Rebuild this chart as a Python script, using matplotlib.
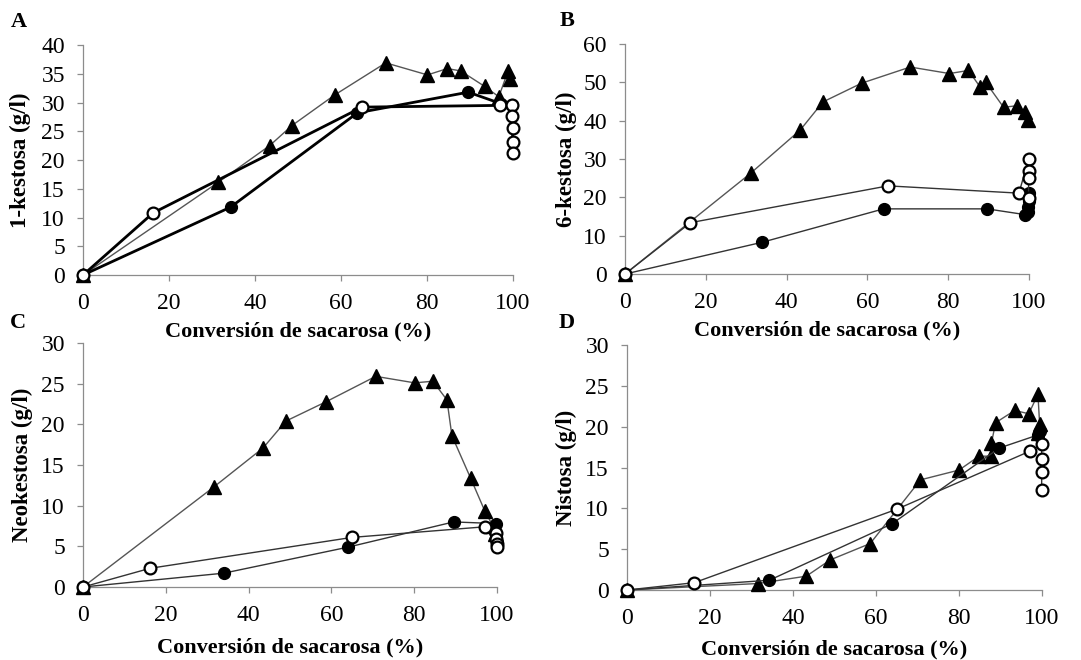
import matplotlib
matplotlib.use('Agg')
import matplotlib.pyplot as plt

plt.rcParams['font.family'] = ['Liberation Serif', 'DejaVu Serif']

# A - 1-kestosa
a_tri_x = [0, 31.4, 43.4, 48.6, 58.5, 70.4, 80.1, 84.7, 87.8, 93.4, 96.7, 98.8, 99.4]
a_tri_y = [0, 16.1, 22.5, 26.0, 31.3, 36.9, 34.8, 35.9, 35.5, 32.8, 31.0, 35.4, 34.1]
a_fil_x = [0, 34.3, 63.8, 89.6, 97.2, 99.8]
a_fil_y = [0, 11.8, 28.2, 31.8, 29.8, 29.6]
a_opn_x = [0, 16.3, 64.9, 97.0, 99.8, 99.8, 99.9, 99.9, 99.9]
a_opn_y = [0, 10.8, 29.2, 29.5, 29.6, 27.7, 25.6, 23.2, 21.3]

# B - 6-kestosa
b_tri_x = [0, 31.1, 43.4, 49.0, 58.6, 70.6, 80.3, 85.0, 87.9, 89.3, 93.7, 97.0, 99.1, 99.7]
b_tri_y = [0, 26.3, 37.6, 44.9, 49.8, 54.0, 52.3, 53.1, 48.8, 50.0, 43.5, 43.9, 42.2, 40.1]
b_fil_x = [0, 34.0, 64.0, 89.6, 99.0, 99.8, 99.8, 99.9, 99.9]
b_fil_y = [0, 8.3, 17.0, 17.0, 15.5, 16.2, 17.5, 19.0, 21.2]
b_opn_x = [0, 16.2, 65.1, 97.5, 99.9, 99.9, 99.9, 99.9]
b_opn_y = [0, 13.4, 23.0, 21.1, 29.9, 26.9, 25.1, 19.8]

# C - Neokestosa
c_tri_x = [0, 31.6, 43.5, 49.0, 58.8, 70.7, 80.1, 84.5, 87.9, 89.1, 93.6, 97.0, 99.0, 99.5]
c_tri_y = [0, 12.3, 17.1, 20.4, 22.8, 25.9, 25.1, 25.3, 23.0, 18.6, 13.4, 9.4, 7.5, 6.5]
c_fil_x = [0, 34.0, 64.0, 89.5, 99.8, 99.5, 99.8, 99.9]
c_fil_y = [0, 1.7, 4.9, 8.0, 7.8, 6.8, 6.2, 5.5]
c_opn_x = [0, 16.2, 65.0, 97.0, 99.8, 99.8, 99.9, 99.9]
c_opn_y = [0, 2.3, 6.1, 7.4, 6.6, 5.9, 5.3, 4.9]

# D - Nistosa
d_tri_x = [0, 31.6, 43.2, 49.0, 58.6, 70.7, 80.0, 84.8, 87.8, 87.8, 88.8, 93.4, 96.8, 99.0, 99.4, 99.0]
d_tri_y = [0, 0.8, 1.7, 3.7, 5.7, 13.5, 14.7, 16.4, 16.4, 18.0, 20.5, 22.0, 21.6, 24.0, 20.4, 19.2]
d_fil_x = [0, 34.3, 63.8, 89.7, 99.0, 99.5]
d_fil_y = [0, 1.2, 8.1, 17.4, 19.0, 19.5]
d_opn_x = [0, 16.2, 65.0, 97.0, 99.9, 99.9, 99.9, 99.9]
d_opn_y = [0, 0.9, 9.9, 17.0, 17.9, 16.1, 14.5, 12.3]

# letter, ylabel, ymax, ystep, axes rect, circle line width, ylabel x, xlabel y
panels = [
    ('A', '1-kestosa (g/l)', 40, 5, [0.0768, 0.5833, 0.3978, 0.3485], 2.0, -0.121, -0.20,
     (a_tri_x, a_tri_y), (a_fil_x, a_fil_y), (a_opn_x, a_opn_y)),
    ('B', '6-kestosa (g/l)', 60, 10, [0.5782, 0.5848, 0.3737, 0.3485], 1.0, -0.119, -0.20,
     (b_tri_x, b_tri_y), (b_fil_x, b_fil_y), (b_opn_x, b_opn_y)),
    ('C', 'Neokestosa (g/l)', 30, 5, [0.0768, 0.1106, 0.3830, 0.3697], 1.0, -0.121, -0.205,
     (c_tri_x, c_tri_y), (c_fil_x, c_fil_y), (c_opn_x, c_opn_y)),
    ('D', 'Nistosa (g/l)', 30, 5, [0.5800, 0.1060, 0.3840, 0.3710], 1.0, -0.120, -0.20,
     (d_tri_x, d_tri_y), (d_fil_x, d_fil_y), (d_opn_x, d_opn_y)),
]

letter_pos = {'A': (19, 22), 'B': (567, 21), 'C': (18, 323), 'D': (567, 323)}

fig = plt.figure(figsize=(10.81, 6.60), dpi=100)

for letter, ylab, ymax, ystep, rect, lw_circ, ylx, xly, tri, fil, opn in panels:
    ax = fig.add_axes(rect)
    circ_col = 'black' if lw_circ > 1 else '#333333'
    ax.plot(tri[0], tri[1], '-', color='#555555', lw=1.0, marker='^', ms=10.5,
            mfc='black', mec='black', clip_on=False, zorder=3)
    ax.plot(fil[0], fil[1], '-', color=circ_col, lw=lw_circ,
            marker='o', ms=8.5, mfc='black', mec='black', clip_on=False, zorder=4)
    ax.plot(opn[0], opn[1], '-', color=circ_col, lw=lw_circ,
            marker='o', ms=8.5, mfc='white', mec='black', mew=1.6, clip_on=False, zorder=5)
    ax.set_xlim(0, 100)
    ax.set_ylim(0, ymax)
    ax.set_xticks(range(0, 101, 20))
    ax.set_yticks(range(0, ymax + 1, ystep))
    for s in ['top', 'right']:
        ax.spines[s].set_visible(False)
    for s in ['left', 'bottom']:
        ax.spines[s].set_color('#8c8c8c')
        ax.spines[s].set_linewidth(0.9)
    ax.tick_params(axis='x', direction='out', length=4, width=0.9, color='#8c8c8c',
                   labelsize=17, pad=9)
    ax.tick_params(axis='y', direction='out', length=4, width=0.9, color='#8c8c8c',
                   labelsize=17, pad=9)
    ax.set_ylabel(ylab, fontsize=16.5, fontweight='bold')
    ax.set_xlabel('Conversión de sacarosa (%)', fontsize=16, fontweight='bold')
    ax.yaxis.set_label_coords(ylx, 0.5)
    ax.xaxis.set_label_coords(0.5, xly)
    lx, ly = letter_pos[letter]
    fig.text(lx / 1081, 1 - ly / 660, letter, fontsize=16, fontweight='bold',
             ha='center', va='center')

fig.savefig('out.png', dpi=100)
